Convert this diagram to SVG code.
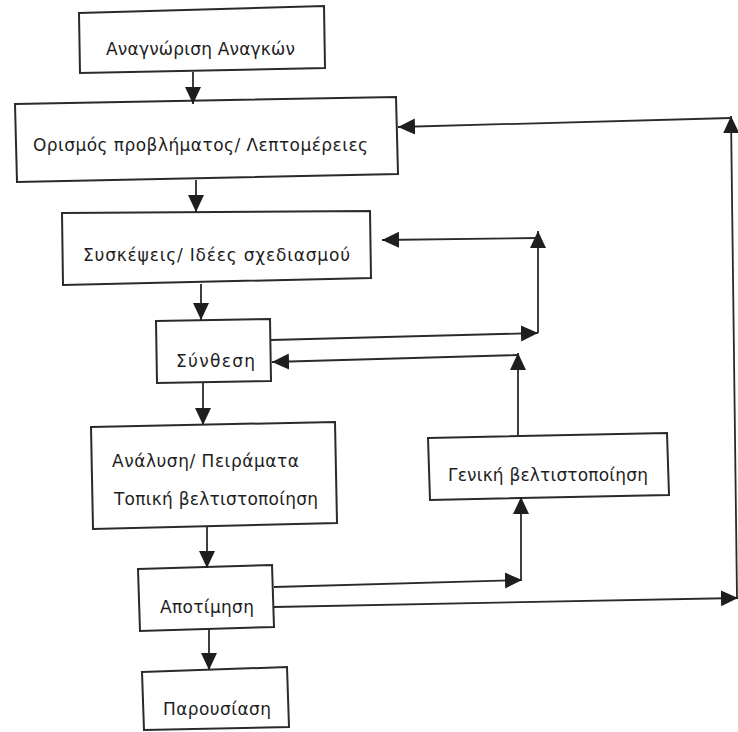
<svg xmlns="http://www.w3.org/2000/svg" width="738" height="732" viewBox="0 0 738 732">
<style>
.box{fill:none;stroke:#2a2a2a;stroke-width:2}
.t{font-family:"DejaVu Sans","Liberation Sans",sans-serif;font-size:17px;fill:#1e1e1e}
.c{fill:none;stroke:#2a2a2a;stroke-width:1.8;marker-end:url(#ah)}
</style>
<defs>
<marker id="ah" markerUnits="userSpaceOnUse" markerWidth="19" markerHeight="17" refX="17" refY="8" orient="auto">
<path d="M0,0 L17,8 L0,16 z" fill="#1e1e1e"/>
</marker>
</defs>
<rect width="738" height="732" fill="#fff"/>
<g id="n1"><polygon class="box" points="79,13 324,6 325,68 80,73"/><text class="t" x="106" y="55" textLength="189">Αναγνώριση Αναγκών</text></g>
<g id="n2"><polygon class="box" points="15,104 396,97 398,174 17,182"/><text class="t" x="33" y="151" textLength="335">Ορισμός προβλήματος/ Λεπτομέρειες</text></g>
<g id="n3"><polygon class="box" points="62,213 370,211 371,278 63,285"/><text class="t" x="83" y="261" textLength="267">Συσκέψεις/ Ιδέες σχεδιασμού</text></g>
<g id="n4"><polygon class="box" points="156,321 270,319 271,381 157,383"/><text class="t" x="176" y="367" textLength="79">Σύνθεση</text></g>
<g id="n5"><polygon class="box" points="91,427 335,422 337,523 93,529"/><text class="t" x="112" y="467" textLength="187">Ανάλυση/ Πειράματα</text><text class="t" x="114" y="505" textLength="204">Τοπική βελτιστοποίηση</text></g>
<g id="n6"><polygon class="box" points="428,438 667,433 669,495 430,500"/><text class="t" x="448" y="481" textLength="200">Γενική βελτιστοποίηση</text></g>
<g id="n7"><polygon class="box" points="138,569 272,565 274,627 140,631"/><text class="t" x="160" y="613" textLength="94">Αποτίμηση</text></g>
<g id="n8"><polygon class="box" points="142,672 287,667 289,727 144,730"/><text class="t" x="163" y="715" textLength="108">Παρουσίαση</text></g>
<g id="connectors">
<line class="c" x1="193" y1="72" x2="193" y2="104"/>
<line class="c" x1="196" y1="180" x2="196" y2="212"/>
<line class="c" x1="201" y1="284" x2="201" y2="320"/>
<line class="c" x1="203" y1="383" x2="203" y2="425"/>
<line class="c" x1="207" y1="526" x2="207" y2="568"/>
<line class="c" x1="209" y1="629" x2="209" y2="670"/>
<line class="c" x1="271" y1="340" x2="538" y2="333"/>
<line class="c" x1="538" y1="333" x2="538" y2="231"/>
<line class="c" x1="538" y1="238" x2="382" y2="240"/>
<line class="c" x1="518" y1="435" x2="518" y2="353"/>
<line class="c" x1="518" y1="355" x2="272" y2="362"/>
<line class="c" x1="274" y1="587" x2="522" y2="580"/>
<line class="c" x1="521" y1="580" x2="521" y2="497"/>
<line class="c" x1="274" y1="607" x2="738" y2="598"/>
<line class="c" x1="737" y1="598" x2="731" y2="116"/>
<line class="c" x1="731" y1="118" x2="398" y2="127"/>
</g>
</svg>
